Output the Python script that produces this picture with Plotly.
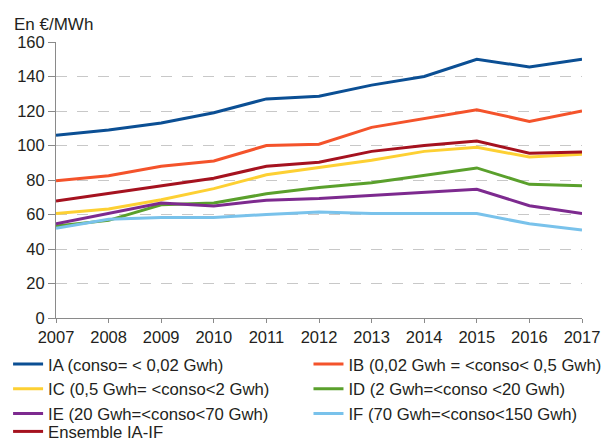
import plotly.graph_objects as go

years = [2007, 2008, 2009, 2010, 2011, 2012, 2013, 2014, 2015, 2016, 2017]

ia = [106, 109, 113, 119, 127, 128.5, 135, 140, 150, 145.5, 150]
ib = [79.5, 82.5, 88, 91, 100, 100.7, 110.5, 115.6, 120.7, 114, 120]
ic = [60.6, 63.2, 68.5, 75, 83, 87, 91.4, 96.6, 99, 93.3, 94.9]
id_ = [53.3, 56.6, 65.6, 66.7, 72, 75.6, 78.4, 82.8, 87, 77.5, 76.6]
ie = [54.6, 60.6, 66.6, 65, 68.3, 69.3, 71, 72.7, 74.6, 65.1, 60.6]
if_ = [52, 57.2, 58.3, 58.3, 60, 61.5, 60.6, 60.6, 60.6, 54.6, 51]
ens = [67.8, 72.2, 76.7, 81, 88, 90.3, 96.6, 100, 102.6, 95.5, 96.2]

names = [
    "IA (conso= < 0,02 Gwh)",
    "IB (0,02 Gwh = <conso< 0,5 Gwh)",
    "IC (0,5 Gwh= <conso<2 Gwh)",
    "ID (2 Gwh=<conso <20 Gwh)",
    "IE (20 Gwh=<conso<70 Gwh)",
    "IF (70 Gwh=<conso<150 Gwh)",
    "Ensemble IA-IF",
]
series = [ia, ib, ic, id_, ie, if_, ens]
colors = ["#0b4f94", "#f4532b", "#fdd033", "#5aa02c", "#7d2a8f", "#79c2eb", "#a5121f"]
legend_ids = ["legend", "legend2", "legend", "legend2", "legend", "legend2", "legend3"]

fig = go.Figure()
for n, s, c, lg in zip(names, series, colors, legend_ids):
    fig.add_trace(go.Scatter(x=years, y=s, name=n, mode="lines", legend=lg,
                             line=dict(color=c, width=3)))

font_color = "#231f20"
leg_common = dict(orientation="v", yanchor="top", xanchor="left",
                  font=dict(size=16.7, color=font_color), tracegroupgap=0,
                  bgcolor="rgba(0,0,0,0)", borderwidth=0)
fig.update_layout(
    width=601, height=443,
    margin=dict(l=56, r=19, t=42, b=125, autoexpand=False),
    paper_bgcolor="white", plot_bgcolor="white",
    font=dict(family="Liberation Sans, Arial, sans-serif", size=16.5, color=font_color),
    showlegend=True,
    legend=dict(x=-0.0911, y=-0.104, **leg_common),
    legend2=dict(x=0.48, y=-0.104, **leg_common),
    legend3=dict(x=-0.0911, y=-0.348, **leg_common),
    annotations=[dict(text="En €/MWh", xref="paper", yref="paper", x=-0.0835, y=1,
                      xanchor="left", yanchor="bottom", yshift=6, showarrow=False,
                      font=dict(size=17, color=font_color))],
)
fig.update_xaxes(range=[2007, 2017], tickmode="array", tickvals=years,
                 ticktext=[str(y) for y in years], ticklabeloverflow="allow",
                 showgrid=False, showline=True, linecolor="#8a8a8a", linewidth=1,
                 ticks="outside", ticklen=4, tickcolor="#8a8a8a", zeroline=False)
fig.update_yaxes(range=[0, 160], tickvals=[0, 20, 40, 60, 80, 100, 120, 140, 160],
                 showgrid=True, gridcolor="#c8c8c8", griddash="11px,10px", gridwidth=1,
                 showline=True, linecolor="#8a8a8a", linewidth=1,
                 ticks="outside", ticklen=7, tickcolor="#8a8a8a", zeroline=False)

fig.write_html("out.html", config={"displayModeBar": False},
               post_script="document.body.style.margin='0';document.body.style.overflow='hidden';")
